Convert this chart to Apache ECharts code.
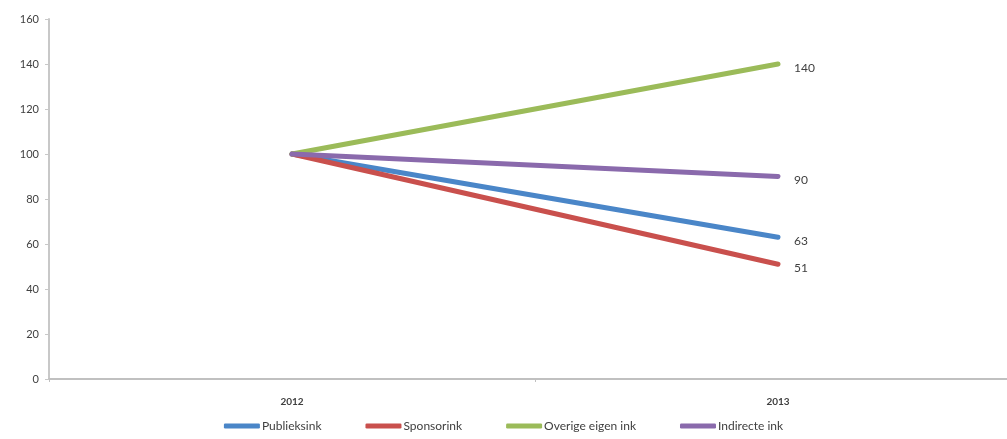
<!DOCTYPE html>
<html>
<head>
<meta charset="utf-8">
<script src="https://cdn.jsdelivr.net/npm/echarts@6/dist/echarts.min.js"></script>
<style>
  html, body { margin: 0; padding: 0; background: #fff; }
  #chart { width: 1007px; height: 439px; }
</style>
</head>
<body>
<div id="chart"></div>
<script>
// jaren op de x-as
var years = ['2012', '2013']
// index (2012 = 100)
var publieksink = [100, 63]
var sponsorink = [100, 51]
var overigeEigenInk = [100, 140]
var indirecteInk = [100, 90]

var chart = echarts.init(document.getElementById('chart'))

function makeSeries (name, data, color) {
  return {
    name: name,
    type: 'line',
    data: data,
    symbol: 'none',
    smooth: false,
    lineStyle: { color: color, width: 5, cap: 'round' },
    itemStyle: { color: color },
    endLabel: {
      show: true,
      color: '#404040',
      fontSize: 12,
      fontFamily: 'Lato',
      distance: 16,
      offset: [0, 4],
      formatter: function (p) { return p.value }
    },
    animation: false
  }
}

chart.setOption({
  backgroundColor: '#fff',
  textStyle: { fontFamily: 'Lato' },
  grid: {
    left: 49,
    top: 19,
    width: 972,
    height: 360,
    outerBoundsMode: 'none'
  },
  legend: {
    bottom: 2,
    left: 'center',
    itemWidth: 36,
    itemHeight: 5,
    itemGap: 44,
    icon: 'roundRect',
    textStyle: { color: '#404040', fontSize: 12, padding: [0, 0, 0, -3] },
    data: ['Publieksink', 'Sponsorink', 'Overige eigen ink', 'Indirecte ink']
  },
  xAxis: {
    type: 'category',
    data: years,
    boundaryGap: true,
    axisLine: { lineStyle: { color: '#c0c0c0', width: 2 } },
    axisTick: { show: true, length: 3, lineStyle: { color: '#c0c0c0' } },
    axisLabel: { color: '#404040', fontSize: 10, fontWeight: 'bold', margin: 18 }
  },
  yAxis: {
    type: 'value',
    min: 0,
    max: 160,
    interval: 20,
    axisLine: { show: true, lineStyle: { color: '#c8c8c8', width: 2 } },
    axisTick: { show: true, length: 4, lineStyle: { color: '#c8c8c8' } },
    splitLine: { show: false },
    axisLabel: { color: '#404040', fontSize: 11, margin: 10 }
  },
  series: [
    makeSeries('Publieksink', publieksink, '#4a86c8'),
    makeSeries('Sponsorink', sponsorink, '#c9504d'),
    makeSeries('Overige eigen ink', overigeEigenInk, '#9bbb59'),
    makeSeries('Indirecte ink', indirecteInk, '#8a6aac')
  ]
})
</script>
</body>
</html>
